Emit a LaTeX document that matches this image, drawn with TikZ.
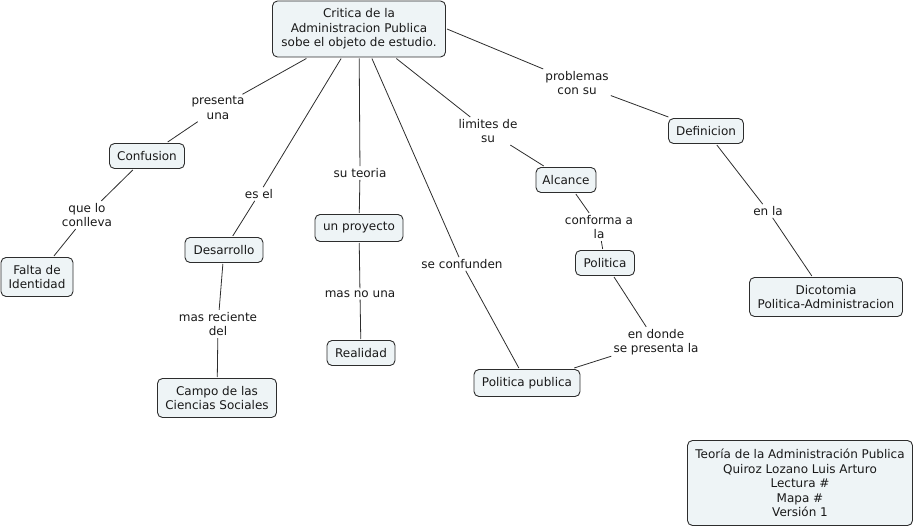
\documentclass[tikz,border=0pt]{standalone}
\usepackage{fontspec}
\setmainfont{DejaVu Sans}
\usetikzlibrary{positioning}
\definecolor{conceptfill}{RGB}{238,244,246}
\definecolor{linkgray}{RGB}{45,45,45}

\begin{document}
\begin{tikzpicture}[
		x=1pt, y=-1pt,
		every node/.style={font=\fontsize{12}{14.4}\selectfont, text=black!90},
		concept/.style={draw=linkgray, fill=conceptfill, rounded corners=5pt, line width=0.9pt, align=center, inner sep=2pt, outer sep=1.5pt},
		linkphrase/.style={align=center, inner sep=2pt},
		link/.style={draw=linkgray, line width=0.8pt}
		]
		\useasboundingbox (0,0) rectangle (917,529);

		% Concepts
		\node[concept, minimum width=173pt, minimum height=56pt] (root) at (359,29) {Critica de la\\Administracion Publica\\sobe el objeto de estudio.};
		\node[concept, minimum width=75pt, minimum height=25pt] (confusion) at (147,156) {Confusion};
		\node[concept, minimum width=72pt, minimum height=39pt] (falta) at (37,277) {Falta de\\Identidad};
		\node[concept, minimum width=78pt, minimum height=25pt] (desarrollo) at (224,250) {Desarrollo};
		\node[concept, minimum width=119pt, minimum height=39pt] (campo) at (217,398) {Campo de las\\Ciencias Sociales};
		\node[concept, minimum width=88pt, minimum height=27pt] (proyecto) at (359,228) {un proyecto};
		\node[concept, minimum width=68pt, minimum height=25pt] (realidad) at (361,353) {Realidad};
		\node[concept, minimum width=106pt, minimum height=27pt] (polpublica) at (527,383) {Politica publica};
		\node[concept, minimum width=60pt, minimum height=25pt] (alcance) at (566,180) {Alcance};
		\node[concept, minimum width=59pt, minimum height=25pt] (politica) at (605,263) {Politica};
		\node[concept, minimum width=75pt, minimum height=25pt] (definicion) at (706,131) {Definicion};
		\node[concept, minimum width=153pt, minimum height=39pt] (dicotomia) at (826,297) {Dicotomia\\Politica-Administracion};
		\node[concept, minimum width=225pt, minimum height=85pt] (info) at (800,483) {Teoría de la Administración Publica\\Quiroz Lozano Luis Arturo\\Lectura \#\\Mapa \#\\Versión 1};

		% Linking phrases
		\node[linkphrase] (presenta) at (218,108) {presenta\\una};
		\node[linkphrase] (conlleva) at (87,215) {que lo\\conlleva};
		\node[linkphrase] (esel) at (259,194) {es el};
		\node[linkphrase] (reciente) at (218,324) {mas reciente\\del};
		\node[linkphrase] (suteoria) at (360,173) {su teoria};
		\node[linkphrase] (masno) at (360,294) {mas no una};
		\node[linkphrase] (confunden) at (462,264) {se confunden};
		\node[linkphrase] (limites) at (488,131) {limites de\\su};
		\node[linkphrase] (conforma) at (599,227) {conforma a\\la};
		\node[linkphrase] (endonde) at (656,342) {en donde\\se presenta la};
		\node[linkphrase] (problemas) at (577,83) {problemas\\con su};
		\node[linkphrase] (enla) at (768,211) {en la};

		% Links
		\draw[link] (root) -- (presenta);
		\draw[link] (presenta) -- (confusion);
		\draw[link] (confusion) -- (conlleva);
		\draw[link] (conlleva) -- (falta);
		\draw[link] (root) -- (esel);
		\draw[link] (esel) -- (desarrollo);
		\draw[link] (desarrollo) -- (reciente);
		\draw[link] (reciente) -- (campo);
		\draw[link] (root) -- (suteoria);
		\draw[link] (suteoria) -- (proyecto);
		\draw[link] (proyecto) -- (masno);
		\draw[link] (masno) -- (realidad);
		\draw[link] (root) -- (confunden);
		\draw[link] (confunden) -- (polpublica);
		\draw[link] (root) -- (limites);
		\draw[link] (limites) -- (alcance);
		\draw[link] (alcance) -- (conforma);
		\draw[link] (conforma) -- (politica);
		\draw[link] (politica) -- (endonde);
		\draw[link] (endonde) -- (polpublica);
		\draw[link] (root.east) -- (problemas);
		\draw[link] (problemas) -- (definicion);
		\draw[link] (definicion) -- (enla);
		\draw[link] (enla) -- (dicotomia);

	\end{tikzpicture}
\end{document}
